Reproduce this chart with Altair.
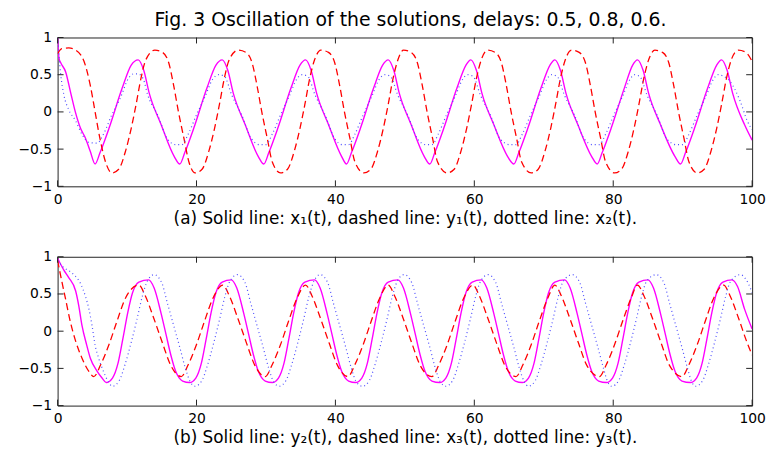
import altair as alt
import pandas as pd

FONT = "DejaVu Sans"
W, H = 700, 150

TITLE = "Fig. 3 Oscillation of the solutions, delays: 0.5, 0.8, 0.6."
CAP_A = "(a) Solid line: x\u2081(t), dashed line: y\u2081(t), dotted line: x\u2082(t)."
CAP_B = "(b) Solid line: y\u2082(t), dashed line: x\u2083(t), dotted line: y\u2083(t)."
X_TICKS = [0, 20, 40, 60, 80, 100]
Y_TICKS = [-1, -0.5, 0, 0.5, 1]

# ---- panel (a): solid x1(t)
S1_T = [0, 0.2, 0.45, 1.15, 1.85, 2.55, 3.3, 4.0, 4.7, 5.4,
        6.1, 7.4, 9.3, 10.6, 11.6,
        12.4, 13.2, 14.9, 16.8, 17.6,
        18.3, 19.6, 21.5, 22.8, 23.7,
        24.5, 25.3, 27.0, 28.9, 29.7,
        30.4, 31.7, 33.6, 34.9, 35.7,
        36.5, 37.3, 39.0, 40.9, 41.6,
        42.3, 43.6, 45.5, 46.8, 47.6,
        48.4, 49.2, 50.9, 52.8, 53.6,
        54.3, 55.6, 57.5, 58.8, 59.5,
        60.3, 61.1, 62.8, 64.8, 65.7,
        66.4, 67.7, 69.6, 70.9, 71.6,
        72.4, 73.2, 74.9, 76.9, 77.7,
        78.4, 79.7, 81.6, 82.8, 83.5,
        84.3, 85.1, 86.8, 88.9, 89.7,
        90.4, 91.7, 93.6, 94.9, 95.6,
        96.4, 97.2, 98.9, 100]
S1_V = [1.0, 0.72, 0.66, 0.54, 0.27, 0.0, -0.22, -0.35, -0.53, -0.70,
        -0.55, -0.22, 0.32, 0.63, 0.70,
        0.56, 0.25, -0.17, -0.60, -0.70,
        -0.55, -0.22, 0.32, 0.63, 0.70,
        0.56, 0.25, -0.17, -0.60, -0.70,
        -0.55, -0.22, 0.32, 0.63, 0.70,
        0.56, 0.25, -0.17, -0.60, -0.70,
        -0.55, -0.22, 0.32, 0.63, 0.70,
        0.56, 0.25, -0.17, -0.60, -0.70,
        -0.55, -0.22, 0.32, 0.63, 0.70,
        0.56, 0.25, -0.17, -0.60, -0.70,
        -0.55, -0.22, 0.32, 0.63, 0.70,
        0.56, 0.25, -0.17, -0.60, -0.70,
        -0.55, -0.22, 0.32, 0.63, 0.70,
        0.56, 0.25, -0.17, -0.60, -0.70,
        -0.55, -0.22, 0.32, 0.63, 0.70,
        0.56, 0.25, -0.17, -0.38]

# ---- panel (a): dashed y1(t)
D1_T = [0, 0.6, 1.6, 2.6, 3.8, 4.7, 5.4, 6.1, 7.0, 7.8,
        8.8, 9.8, 10.6, 11.3, 12.0, 12.7, 14.0,
        15.1, 16.0, 16.7, 17.4, 18.2, 18.9, 19.8,
        20.8, 21.8, 22.6, 23.3, 24.0, 24.7, 26.0,
        27.1, 28.0, 28.7, 29.4, 30.2, 30.9, 32.1,
        33.1, 34.1, 34.9, 35.6, 36.3, 37.0, 37.9,
        39.0, 39.9, 40.6, 41.3, 42.1, 42.8, 44.1,
        45.1, 46.1, 46.9, 47.6, 48.3, 49.0, 49.8,
        50.9, 51.8, 52.5, 53.2, 54.0, 54.7, 56.1,
        57.1, 58.1, 58.9, 59.6, 60.3, 61.0, 61.9,
        63.0, 63.9, 64.6, 65.3, 66.1, 66.8, 68.2,
        69.2, 70.2, 71.0, 71.7, 72.4, 73.1, 74.0,
        75.1, 76.0, 76.7, 77.4, 78.2, 78.9, 80.2,
        81.2, 82.2, 83.0, 83.7, 84.4, 85.1, 86.0,
        87.1, 88.0, 88.7, 89.4, 90.2, 90.9, 92.1,
        93.1, 94.1, 94.9, 95.6, 96.3, 97.0, 98.0,
        99.1, 100]
D1_V = [0.78, 0.85, 0.86, 0.83, 0.68, 0.36, 0.0, -0.36, -0.70, -0.82,
        -0.77, -0.52, -0.22, 0.10, 0.45, 0.70, 0.83,
        0.80, 0.66, 0.36, 0.0, -0.36, -0.67, -0.82,
        -0.77, -0.52, -0.22, 0.10, 0.45, 0.70, 0.83,
        0.80, 0.66, 0.36, 0.0, -0.36, -0.67, -0.82,
        -0.77, -0.52, -0.22, 0.10, 0.45, 0.70, 0.83,
        0.80, 0.66, 0.36, 0.0, -0.36, -0.67, -0.82,
        -0.77, -0.52, -0.22, 0.10, 0.45, 0.70, 0.83,
        0.80, 0.66, 0.36, 0.0, -0.36, -0.67, -0.82,
        -0.77, -0.52, -0.22, 0.10, 0.45, 0.70, 0.83,
        0.80, 0.66, 0.36, 0.0, -0.36, -0.67, -0.82,
        -0.77, -0.52, -0.22, 0.10, 0.45, 0.70, 0.83,
        0.80, 0.66, 0.36, 0.0, -0.36, -0.67, -0.82,
        -0.77, -0.52, -0.22, 0.10, 0.45, 0.70, 0.83,
        0.80, 0.66, 0.36, 0.0, -0.36, -0.67, -0.82,
        -0.77, -0.52, -0.22, 0.10, 0.45, 0.70, 0.83,
        0.80, 0.68]

# ---- panel (a): dotted x2(t)
X2_T = [0, 0.45, 0.9, 1.6, 2.6, 3.5, 4.5, 5.7, 6.6, 7.8, 9.0, 10.2, 10.9, 11.6, 12.3,
        13.0, 14.4, 15.8, 17.0, 17.9, 18.8, 20.0, 21.2, 22.4, 23.2, 24.0,
        25.1, 26.5, 27.9, 29.1, 30.0, 30.9, 32.1, 33.3, 34.5, 35.2, 36.0,
        37.1, 38.5, 39.9, 41.0, 41.9, 42.8, 44.0, 45.2, 46.4, 47.1, 47.9,
        49.0, 50.4, 51.8, 53.0, 53.9, 54.8, 56.0, 57.2, 58.4, 59.0, 59.8,
        60.9, 62.3, 63.7, 65.1, 66.0, 66.9, 68.1, 69.3, 70.5, 71.1, 71.9,
        73.0, 74.4, 75.8, 77.1, 78.0, 78.9, 80.1, 81.3, 82.5, 83.0, 83.8,
        84.9, 86.3, 87.7, 89.1, 90.0, 90.9, 92.1, 93.3, 94.5, 95.1, 95.9,
        96.9, 98.3, 99.3, 100]
X2_V = [1.0, 0.5, 0.23, 0.03, -0.12, -0.30, -0.41, -0.42, -0.30, -0.04, 0.18, 0.45, 0.51, 0.51, 0.45,
        0.22, -0.04, -0.36, -0.44, -0.44, -0.30, -0.04, 0.20, 0.45, 0.50, 0.48,
        0.22, -0.04, -0.36, -0.44, -0.44, -0.30, -0.04, 0.20, 0.45, 0.50, 0.48,
        0.22, -0.04, -0.36, -0.44, -0.44, -0.30, -0.04, 0.20, 0.45, 0.50, 0.48,
        0.22, -0.04, -0.36, -0.44, -0.44, -0.30, -0.04, 0.20, 0.45, 0.50, 0.48,
        0.22, -0.04, -0.36, -0.44, -0.44, -0.30, -0.04, 0.20, 0.45, 0.50, 0.48,
        0.22, -0.04, -0.36, -0.44, -0.44, -0.30, -0.04, 0.20, 0.45, 0.50, 0.48,
        0.22, -0.04, -0.36, -0.44, -0.44, -0.30, -0.04, 0.20, 0.45, 0.50, 0.48,
        0.40, 0.14, -0.12, -0.24]

# ---- panel (b): solid y2(t)
S2_T = [0, 0.9, 1.6, 2.6, 3.05, 3.5, 4.2, 4.7, 5.7, 6.4, 7.0,
        7.9, 8.7, 9.4, 10.1, 10.8, 11.7, 13.1,
        13.9, 14.9, 15.6, 16.3, 17.0, 18.0, 19.0,
        19.9, 20.7, 21.4, 22.1, 22.8, 23.7, 25.0,
        25.8, 26.8, 27.5, 28.2, 28.9, 29.9, 30.9,
        31.8, 32.6, 33.3, 34.0, 34.7, 35.6, 37.0,
        37.8, 38.8, 39.5, 40.2, 40.9, 41.9, 42.9,
        43.8, 44.6, 45.3, 46.0, 46.7, 47.6, 49.0,
        49.8, 50.8, 51.5, 52.2, 52.9, 53.9, 55.0,
        55.9, 56.7, 57.4, 58.1, 58.8, 59.7, 61.0,
        61.8, 62.8, 63.5, 64.2, 64.9, 65.9, 66.9,
        67.8, 68.6, 69.3, 70.0, 70.7, 71.6, 73.0,
        73.8, 74.8, 75.5, 76.2, 76.9, 77.9, 79.0,
        79.9, 80.7, 81.4, 82.1, 82.8, 83.7, 85.0,
        85.8, 86.8, 87.5, 88.2, 88.9, 89.9, 91.1,
        92.0, 92.8, 93.5, 94.2, 94.9, 95.8, 97.1,
        97.9, 98.9, 100]
S2_V = [0.98, 0.82, 0.72, 0.54, 0.34, 0.08, -0.19, -0.36, -0.54, -0.63, -0.69,
        -0.63, -0.43, -0.10, 0.25, 0.52, 0.66, 0.69,
        0.58, 0.24, -0.04, -0.32, -0.54, -0.67, -0.69,
        -0.63, -0.43, -0.10, 0.25, 0.52, 0.66, 0.69,
        0.58, 0.24, -0.04, -0.32, -0.54, -0.67, -0.69,
        -0.63, -0.43, -0.10, 0.25, 0.52, 0.66, 0.69,
        0.58, 0.24, -0.04, -0.32, -0.54, -0.67, -0.69,
        -0.63, -0.43, -0.10, 0.25, 0.52, 0.66, 0.69,
        0.58, 0.24, -0.04, -0.32, -0.54, -0.67, -0.69,
        -0.63, -0.43, -0.10, 0.25, 0.52, 0.66, 0.69,
        0.58, 0.24, -0.04, -0.32, -0.54, -0.67, -0.69,
        -0.63, -0.43, -0.10, 0.25, 0.52, 0.66, 0.69,
        0.58, 0.24, -0.04, -0.32, -0.54, -0.67, -0.69,
        -0.63, -0.43, -0.10, 0.25, 0.52, 0.66, 0.69,
        0.58, 0.24, -0.04, -0.32, -0.54, -0.67, -0.69,
        -0.63, -0.43, -0.10, 0.25, 0.52, 0.66, 0.69,
        0.60, 0.30, 0.03]

# ---- panel (b): dashed x3(t)
D3_T = [0, 0.45, 1.15, 1.85, 2.55, 3.5, 4.5, 5.2,
        6.2, 7.4, 8.5, 9.8, 11.7,
        12.6, 13.9, 15.1, 16.3, 17.8,
        18.8, 20.0, 21.1, 22.4, 23.8,
        24.7, 26.0, 27.2, 28.4, 29.9,
        30.9, 32.1, 33.2, 34.5, 35.7,
        36.6, 37.9, 39.1, 40.3, 41.8,
        42.8, 44.0, 45.1, 46.4, 47.6,
        48.5, 49.8, 51.0, 52.2, 53.9,
        54.9, 56.1, 57.2, 58.5, 59.8,
        60.7, 62.0, 63.2, 64.4, 66.0,
        67.0, 68.2, 69.3, 70.6, 71.6,
        72.5, 73.8, 75.0, 76.2, 78.0,
        79.0, 80.2, 81.3, 82.6, 83.5,
        84.4, 85.7, 86.9, 88.1, 89.9,
        90.9, 92.1, 93.2, 94.5, 95.9,
        96.8, 98.1, 99.3, 100]
D3_V = [0.95, 0.74, 0.43, 0.12, -0.12, -0.36, -0.54, -0.61,
        -0.45, -0.18, 0.12, 0.45, 0.62,
        0.48, 0.16, -0.16, -0.46, -0.61,
        -0.45, -0.18, 0.12, 0.45, 0.62,
        0.48, 0.16, -0.16, -0.46, -0.61,
        -0.45, -0.18, 0.12, 0.45, 0.62,
        0.48, 0.16, -0.16, -0.46, -0.61,
        -0.45, -0.18, 0.12, 0.45, 0.62,
        0.48, 0.16, -0.16, -0.46, -0.61,
        -0.45, -0.18, 0.12, 0.45, 0.62,
        0.48, 0.16, -0.16, -0.46, -0.61,
        -0.45, -0.18, 0.12, 0.45, 0.62,
        0.48, 0.16, -0.16, -0.46, -0.61,
        -0.45, -0.18, 0.12, 0.45, 0.62,
        0.48, 0.16, -0.16, -0.46, -0.61,
        -0.45, -0.18, 0.12, 0.45, 0.62,
        0.48, 0.16, -0.16, -0.32]

# ---- panel (b): dotted y3(t)
X3_T = [0, 0.7, 2.1, 3.3, 4.0, 4.5, 4.95, 5.4, 5.9, 6.6, 7.3, 7.9,
        8.9, 9.7, 10.6, 11.4, 12.2, 12.9, 13.9,
        15.0, 15.8, 16.7, 17.6, 18.4, 19.1, 19.8,
        20.8, 21.6, 22.5, 23.3, 24.1, 24.8, 25.9,
        27.0, 27.8, 28.7, 29.6, 30.4, 31.1, 31.9,
        32.9, 33.7, 34.6, 35.4, 36.2, 36.9, 37.8,
        38.9, 39.7, 40.6, 41.5, 42.3, 43.0, 43.9,
        44.9, 45.7, 46.6, 47.4, 48.2, 48.9, 49.9,
        51.0, 51.8, 52.7, 53.6, 54.4, 55.1, 55.9,
        56.9, 57.7, 58.6, 59.4, 60.2, 60.9, 62.0,
        63.1, 63.9, 64.8, 65.7, 66.5, 67.2, 67.8,
        68.8, 69.6, 70.5, 71.3, 72.1, 72.8, 74.1,
        75.2, 76.0, 76.9, 77.8, 78.6, 79.2, 79.8,
        80.8, 81.6, 82.5, 83.3, 84.1, 84.8, 86.2,
        87.3, 88.1, 89.0, 89.9, 90.7, 91.3, 91.9,
        92.9, 93.7, 94.6, 95.4, 96.2, 96.9, 98.3,
        99.4, 100]
X3_V = [0.95, 0.87, 0.78, 0.64, 0.47, 0.30, 0.08, -0.19, -0.36, -0.54, -0.68, -0.74,
        -0.66, -0.45, -0.15, 0.15, 0.47, 0.67, 0.76,
        0.65, 0.38, 0.08, -0.22, -0.50, -0.68, -0.74,
        -0.66, -0.45, -0.15, 0.15, 0.47, 0.67, 0.76,
        0.65, 0.38, 0.08, -0.22, -0.50, -0.68, -0.74,
        -0.66, -0.45, -0.15, 0.15, 0.47, 0.67, 0.76,
        0.65, 0.38, 0.08, -0.22, -0.50, -0.68, -0.74,
        -0.66, -0.45, -0.15, 0.15, 0.47, 0.67, 0.76,
        0.65, 0.38, 0.08, -0.22, -0.50, -0.68, -0.74,
        -0.66, -0.45, -0.15, 0.15, 0.47, 0.67, 0.76,
        0.65, 0.38, 0.08, -0.22, -0.50, -0.68, -0.74,
        -0.66, -0.45, -0.15, 0.15, 0.47, 0.67, 0.76,
        0.65, 0.38, 0.08, -0.22, -0.50, -0.68, -0.74,
        -0.66, -0.45, -0.15, 0.15, 0.47, 0.67, 0.76,
        0.65, 0.38, 0.08, -0.22, -0.50, -0.68, -0.74,
        -0.66, -0.45, -0.15, 0.15, 0.47, 0.67, 0.76,
        0.65, 0.52]

XS = alt.Scale(domain=[0, 100], nice=False, zero=False)
YS = alt.Scale(domain=[-1, 1], nice=False, zero=False)

SOLID = dict(color="#ff00ff", strokeWidth=1.4)
DASHED = dict(color="#ff0000", strokeWidth=1.3, strokeDash=[7, 4])
DOTTED = dict(color="#4d4dff", strokeWidth=1.2, strokeDash=[1, 3])


def axes(caption):
    xa = alt.Axis(values=X_TICKS, title=caption, labelFlush=False,
                  labelOverlap=False, format="d")
    ya = alt.Axis(values=Y_TICKS, title=None, minExtent=44, maxExtent=44,
                  format="~g")
    return xa, ya


def series(ts, vs, style, caption):
    xa, ya = axes(caption)
    df = pd.DataFrame({"t": ts, "v": vs})
    return alt.Chart(df).mark_line(interpolate="monotone", clip=True, **style).encode(
        x=alt.X("t:Q", scale=XS, axis=xa),
        y=alt.Y("v:Q", scale=YS, axis=ya),
    )


def tick_layers(caption):
    xa, ya = axes(caption)
    tx = alt.Chart(pd.DataFrame({"t": X_TICKS}))
    ty = alt.Chart(pd.DataFrame({"v": Y_TICKS}))
    rule = dict(color="#222222", strokeWidth=1)
    top = tx.mark_rule(**rule).encode(x=alt.X("t:Q", scale=XS, axis=xa),
                                      y=alt.value(0), y2=alt.value(6))
    bot = tx.mark_rule(**rule).encode(x=alt.X("t:Q", scale=XS, axis=xa),
                                      y=alt.value(H), y2=alt.value(H - 6))
    left = ty.mark_rule(**rule).encode(y=alt.Y("v:Q", scale=YS, axis=ya),
                                       x=alt.value(0), x2=alt.value(6))
    right = ty.mark_rule(**rule).encode(y=alt.Y("v:Q", scale=YS, axis=ya),
                                        x=alt.value(W), x2=alt.value(W - 6))
    return [top, bot, left, right]


panel_a = alt.layer(
    series(S1_T, S1_V, SOLID, CAP_A),
    series(D1_T, D1_V, DASHED, CAP_A),
    series(X2_T, X2_V, DOTTED, CAP_A),
    *tick_layers(CAP_A),
).properties(width=W, height=H)

panel_b = alt.layer(
    series(S2_T, S2_V, SOLID, CAP_B),
    series(D3_T, D3_V, DASHED, CAP_B),
    series(X3_T, X3_V, DOTTED, CAP_B),
    *tick_layers(CAP_B),
).properties(width=W, height=H)

chart = alt.vconcat(panel_a, panel_b, spacing=22).properties(
    title=alt.TitleParams(TITLE, font=FONT, fontSize=19, fontWeight="normal",
                          color="black", anchor="middle", offset=0, dx=21),
    padding={"left": 5, "top": 1, "right": 2, "bottom": 0},
).configure_view(
    stroke="#222222", strokeWidth=1
).configure_axis(
    labelFont=FONT, labelFontSize=14, labelColor="black",
    titleFont=FONT, titleFontSize=17, titleFontWeight="normal", titleColor="black",
    ticks=False, tickSize=0, domain=False, grid=False,
    labelPadding=6, titlePadding=4,
)

chart.save("out.html", embed_options={"renderer": "svg", "actions": False})
